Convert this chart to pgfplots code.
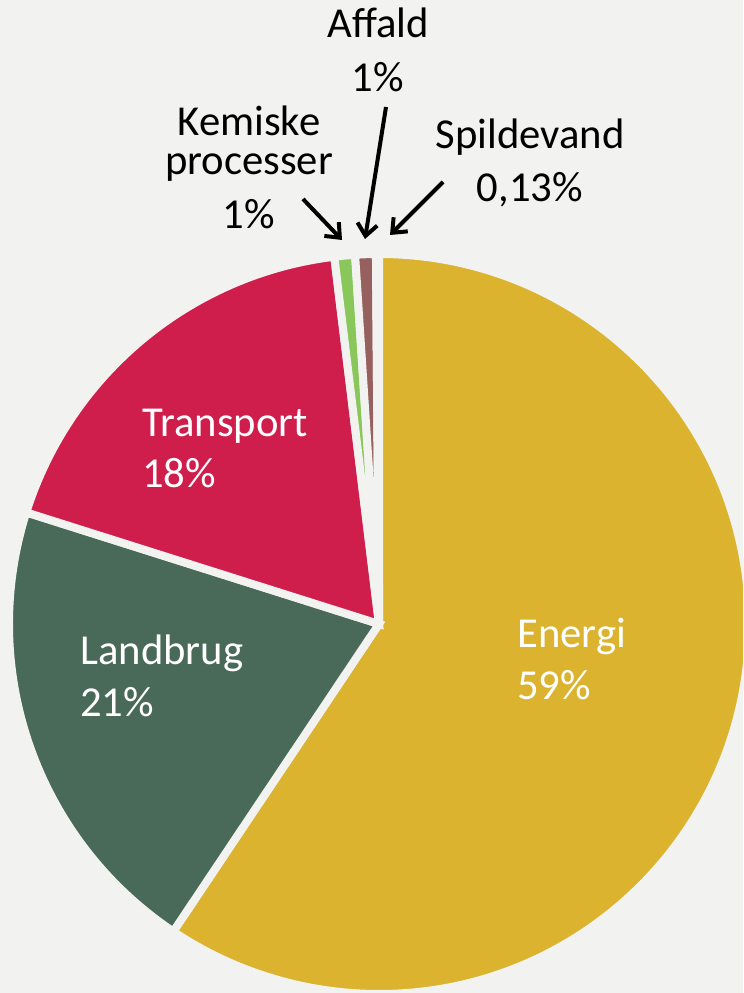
\documentclass[border=0pt]{standalone}
\usepackage{pgfplots}
\pgfplotsset{compat=1.18}
\usepackage{pgfplotstable}
\usepackage{fontspec}
\setmainfont{Carlito}
\usetikzlibrary{arrows.meta}
\definecolor{bg}{RGB}{242,242,240}
\definecolor{cEnergi}{RGB}{219,179,46}
\definecolor{cLand}{RGB}{74,106,89}
\definecolor{cTrans}{RGB}{208,30,76}
\definecolor{cKem}{RGB}{137,199,90}
\definecolor{cAff}{RGB}{150,96,94}
\definecolor{cSpild}{RGB}{120,140,170}

\pgfplotstableread{
name value color
Energi 59.4 cEnergi
Landbrug 20.5 cLand
Transport 18.2 cTrans
Kemiske 0.9 cKem
Affald 0.9 cAff
Spildevand 0.13 cSpild
}\piedata

\newcommand\lab{\fontsize{32}{38}\selectfont}

\begin{document}
\begin{tikzpicture}
\fill[bg] (0,0) rectangle (557.25pt,744.75pt);
\pgfmathsetmacro\total{0}
\pgfplotsforeachungrouped \i in {0,...,5}{%
  \pgfplotstablegetelem{\i}{value}\of\piedata
  \pgfmathsetmacro\total{\total+\pgfplotsretval}%
}
\begin{axis}[
  width=557.25pt, height=744.75pt, scale only axis,
  xmin=0, xmax=743, ymin=0, ymax=993,
  axis lines=none, clip=true,
]
\pgfmathsetmacro\cum{90}
\pgfplotsforeachungrouped \i in {0,...,5}{%
  \pgfplotstablegetelem{\i}{value}\of\piedata
  \pgfmathsetmacro\slicespan{\pgfplotsretval/\total*360}%
  \pgfplotstablegetelem{\i}{color}\of\piedata
  \let\col\pgfplotsretval
  \pgfmathsetmacro\endang{\cum-\slicespan}%
  \edef\cmd{\noexpand\addplot[fill=\col, draw=bg, line width=6pt] coordinates {(379,369)} -- ++(\cum:277.5pt) arc[start angle=\cum, end angle=\endang, radius=277.5pt] -- cycle;}%
  \cmd
  \global\let\cum\endang
}

% inside labels
\node[anchor=base west, inner sep=0, text=white, font=\lab] at (axis cs:517,345) {Energi};
\node[anchor=base west, inner sep=0, text=white, font=\lab] at (axis cs:517,293) {59\%};
\node[anchor=base west, inner sep=0, text=white, font=\lab] at (axis cs:80,328) {Landbrug};
\node[anchor=base west, inner sep=0, text=white, font=\lab] at (axis cs:80,276) {21\%};
\node[anchor=base west, inner sep=0, text=white, font=\lab] at (axis cs:142,556) {Transport};
\node[anchor=base west, inner sep=0, text=white, font=\lab] at (axis cs:142,505) {18\%};
% outside labels
\node[anchor=base, inner sep=0, font=\lab] at (axis cs:249,857) {Kemiske};
\node[anchor=base, inner sep=0, font=\lab] at (axis cs:249,818) {processer};
\node[anchor=base, inner sep=0, font=\lab] at (axis cs:249,764) {1\%};
\node[anchor=base, inner sep=0, font=\lab] at (axis cs:378,955) {Affald};
\node[anchor=base, inner sep=0, font=\lab] at (axis cs:378,901) {1\%};
\node[anchor=base, inner sep=0, font=\lab] at (axis cs:530,844) {Spildevand};
\node[anchor=base, inner sep=0, font=\lab] at (axis cs:530,791) {0,13\%};
% leader arrows
\draw[line width=3pt, -{Straight Barb[length=9pt, width=15pt, line width=3pt]}] (axis cs:303,794) -- (axis cs:342,753);
\draw[line width=3pt, -{Straight Barb[length=9pt, width=15pt, line width=3pt]}] (axis cs:386,886) -- (axis cs:365,754);
\draw[line width=3pt, -{Straight Barb[length=9pt, width=15pt, line width=3pt]}] (axis cs:443,811) -- (axis cs:390,758);
\end{axis}
\end{tikzpicture}
\end{document}
